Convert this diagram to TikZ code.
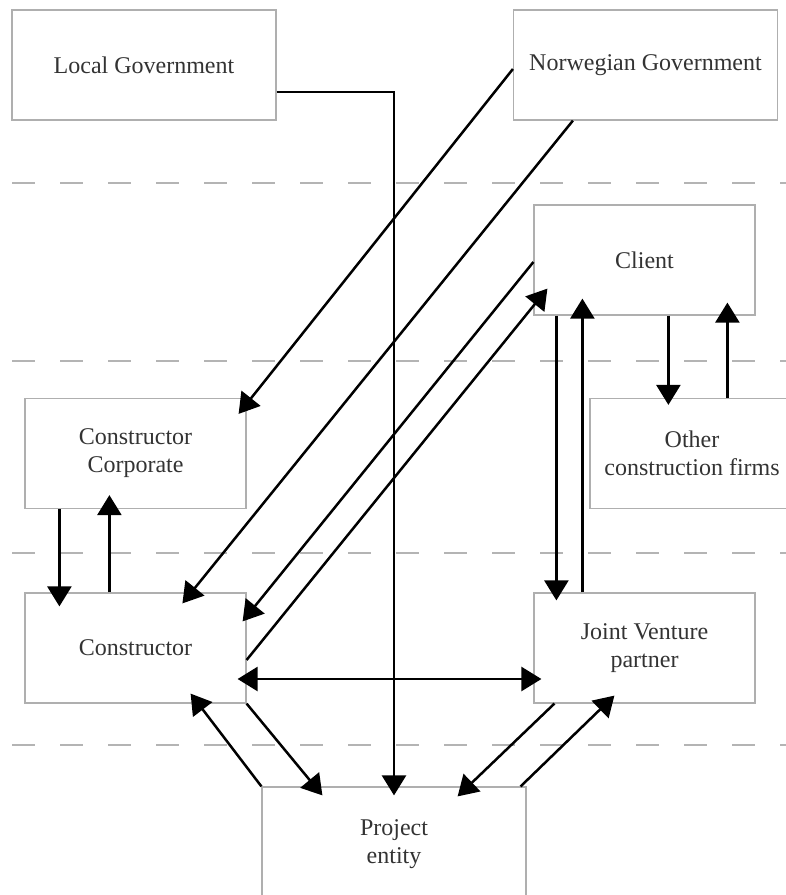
\documentclass[tikz,border=0pt]{standalone}
\usepackage{fontspec}
\setmainfont{Liberation Serif}
\usepackage{xcolor}
\definecolor{boxline}{RGB}{175,175,175}
\definecolor{layerline}{RGB}{180,180,180}
\usetikzlibrary{arrows.meta,calc}
\tikzset{
  box/.style={draw=boxline,line width=0.6pt,minimum width=110.5pt,%
    minimum height=55pt,inner sep=0pt,align=center,%
    font=\fontsize{12}{14}\selectfont,text=black!80},
  widebox/.style={box,minimum width=132pt},
  flow/.style={-{Triangle[length=10pt,width=12pt]},line width=1.25pt},
  twoway/.style={{Triangle[length=10pt,width=12pt]}-{Triangle[length=10pt,width=12pt]},line width=1.25pt},
  layer/.style={draw=layerline,line width=1pt,dash pattern=on 11.5pt off 12.5pt},
}

\begin{document}
\begin{tikzpicture}[x=0.5pt,y=-0.5pt]
\useasboundingbox (0,0) rectangle (786,895);
\clip (0,0) rectangle (786,895);
% level separators
\foreach \yy in {183,361,553,745}
  \draw[layer] (12,\yy) -- (786,\yy);
% actors
\node[widebox] (localgov) at (144,65)    {Local Government};
\node[widebox] (norgov)   at (645.5,65)  {Norwegian Government};
\node[box]     (client)   at (644.5,260) {Client};
\node[box]     (corp)     at (135.5,453.5) {Constructor\\Corporate};
\node[box,minimum width=102pt] (other) at (692,453.5) {Other\\construction firms};
\node[box]     (cons)     at (135.5,648) {Constructor};
\node[box]     (jv)       at (644.5,648) {Joint Venture\\partner};
\node[widebox,minimum height=57pt] (proj) at (394,844) {Project\\entity};
% relations
\draw[flow] ($(localgov.east)+(0,27)$) -| ($(proj.north)+(0,9)$);
\draw[flow] ($(norgov.west)+(0,4)$) -- ($(corp.north east)+(-8,16)$);
\draw[flow] ($(norgov.south west)+(60,0)$) -- ($(cons.north west)+(158,11)$);
\draw[flow] ($(client.west)+(0,2)$) -- ($(cons.north east)+(-4,29)$);
\draw[flow] ($(cons.east)+(0,12)$) -- ($(client.south west)+(14,-27)$);
\draw[flow] ($(client.south west)+(23,0)$) -- ($(jv.north west)+(23,8)$);
\draw[flow] ($(jv.north west)+(49,0)$) -- ($(client.south west)+(49,-17)$);
\draw[flow] ($(client.south west)+(135,0)$) -- ($(other.north west)+(79,7)$);
\draw[flow] ($(other.north west)+(138,0)$) -- ($(client.south west)+(194,-13)$);
\draw[flow] ($(corp.south west)+(35,0)$) -- ($(cons.north west)+(35,14)$);
\draw[flow] ($(cons.north west)+(85,0)$) -- ($(corp.south west)+(85,-14)$);
\draw[twoway] ($(cons.east)+(-9,31)$) -- ($(jv.west)+(8,31)$);
\draw[flow] (cons.south east) -- ($(proj.north west)+(61,9)$);
\draw[flow] (proj.north west) -- ($(cons.south east)+(-56,-10)$);
\draw[flow] ($(jv.south west)+(21,0)$) -- ($(proj.north east)+(-69,10)$);
\draw[flow] ($(proj.north east)+(-6,0)$) -- ($(jv.south west)+(81,-8)$);
\end{tikzpicture}
\end{document}
